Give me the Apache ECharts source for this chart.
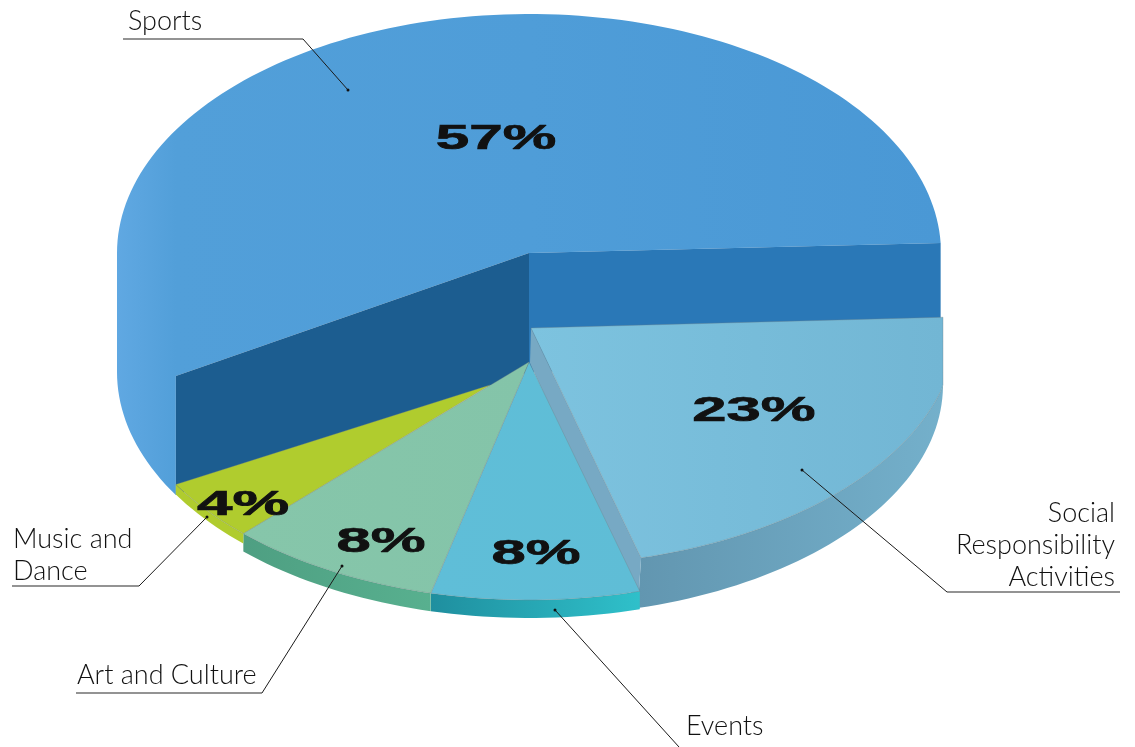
<!DOCTYPE html>
<html>
<head>
<meta charset="utf-8">
<style>html,body{margin:0;padding:0;background:#fff}#c{width:1135px;height:747px}</style>
<script src="https://cdn.jsdelivr.net/npm/echarts@6/dist/echarts.min.js"></script>
</head>
<body>
<div id="c"></div>
<script>
const categories = ['Sports', 'Social Responsibility Activities', 'Events', 'Art and Culture', 'Music and Dance'];
const shareValues = [57, 23, 8, 8, 4];
const categoryLines = [['Sports'], ['Social', 'Responsibility', 'Activities'], ['Events'], ['Art and Culture'], ['Music and', 'Dance']];

// Perspective geometry of each slice (the source is a hand-distorted 3D pie).
const sliceGeometry = [
  { top: { cx: 529, cy: 253, rx: 412, ry: 239 }, bottom: { cx: 529, cy: 372, rx: 412, ry: 239 }, apex: [529, 253], apexLow: [529, 372], start: 149, fit: 1.0166, inner: true },
  { top: { cx: 531, cy: 328, rx: 425, ry: 238 }, bottom: { cx: 531, cy: 385, rx: 412, ry: 231 }, apex: [531, 328], apexLow: [530, 363], start: -2.6, fit: 0.937, maxX: 943, strip: true },
  { top: { cx: 529, cy: 362, rx: 412, ry: 238 }, bottom: { cx: 529, cy: 380, rx: 412, ry: 238 }, apex: [529, 362], start: 74.4, fit: 1.02 },
  { top: { cx: 529, cy: 362, rx: 412, ry: 238 }, bottom: { cx: 529, cy: 380, rx: 412, ry: 238 }, apex: [529, 362], start: 103.8, fit: 1.045 },
  { top: { cx: 529, cy: 362, rx: 412, ry: 238 }, bottom: { cx: 529, cy: 372, rx: 412, ry: 238 }, apex: [490, 385], start: 133.9, fit: 1.05 }
];
const sliceColors = [
  { top: [[0, '#60a8e2'], [0.0716, '#529fd9'], [0.5, '#4f9dd8'], [1, '#4a98d5']], innerLeft: '#1c5d90', innerRight: '#2a78b7' },
  { top: [[0, '#7dc3df'], [1, '#72b6d4']], wall: ['#6296b0', '#74b0cb'], strip: '#77a9c4' },
  { top: [[0, '#5fbed8'], [1, '#5fbdd6']], wall: ['#1f8f9f', '#2fc0ca'] },
  { top: [[0, '#86c6aa'], [1, '#84c4a9']], wall: ['#4e9f82', '#58b08f'] },
  { top: [[0, '#b0cc2e'], [1, '#b0cc2e']], wall: ['#b0cc2e', '#b0cc2e'] }
];
const percentPlacement = [
  { x: 496, y: 139, sx: 1.72 }, { x: 754, y: 411, sx: 1.76 }, { x: 536, y: 554, sx: 1.76 },
  { x: 381, y: 542, sx: 1.76 }, { x: 243, y: 505, sx: 1.82 }
];
const leaderPlacement = [
  { under: [123, 303, 39], to: [348, 90], text: { x: 128, y: 21, align: 'left' } },
  { under: [1120, 947, 592], to: [802, 470], text: { x: 1115, y: 513, align: 'right' } },
  { from: [679, 747], to: [555, 610], text: { x: 686, y: 726, align: 'left' } },
  { under: [76, 262, 693], to: [342, 566], text: { x: 77, y: 675, align: 'left' } },
  { under: [12, 139, 586], to: [207, 517], text: { x: 13, y: 539, align: 'left' } }
];
const LINE_GAP = 32;

const chart = echarts.init(document.getElementById('c'), null, { renderer: 'canvas' });
const rad = d => d * Math.PI / 180;
function arc(e, a0, a1, maxX) {
  const pts = [];
  const n = Math.max(8, Math.ceil(Math.abs(a1 - a0) / 1.5));
  for (let i = 0; i <= n; i++) {
    const a = rad(a0 + (a1 - a0) * i / n);
    let x = e.cx + e.rx * Math.cos(a);
    if (maxX) x = Math.min(x, maxX);
    pts.push([x, e.cy + e.ry * Math.sin(a)]);
  }
  return pts;
}
const hGrad = stops => new echarts.graphic.LinearGradient(0, 0, 1, 0, stops.map(s => ({ offset: s[0], color: s[1] })));
const wallGrad = c => hGrad([[0, c[0]], [1, c[1]]]);
const poly = (points, fill, stroke) => ({
  type: 'polygon', shape: { points },
  style: { fill, stroke: stroke || null, lineWidth: stroke ? 0.6 : 0 }
});
const EDGE = 'rgba(110,125,130,0.55)';

function renderSlice(params, api) {
  const i = params.dataIndex;
  const g = sliceGeometry[i], c = sliceColors[i];
  const sweep = api.value(0) * 3.6 * g.fit;
  const a0 = g.start, a1 = g.start + sweep;
  const rim = arc(g.top, a0, a1, g.maxX);
  const low = arc(g.bottom, a0, a1, g.maxX);
  const children = [];
  if (g.inner) {
    // one silhouette: the outer wall on the left blends into the top face
    const body = arc(g.bottom, a0, 180).concat(arc(g.top, 180, a1), [g.apex, rim[0]]);
    children.push(poly(body, hGrad(c.top)));
    children.push(poly([g.apex, rim[0], low[0], g.apexLow], c.innerLeft));
    children.push(poly([g.apex, rim[rim.length - 1], low[low.length - 1], g.apexLow], c.innerRight));
  } else {
    children.push(poly(rim.concat(low.slice().reverse()), wallGrad(c.wall)));
    if (g.strip) {
      children.push(poly([g.apex, rim[rim.length - 1], low[low.length - 1], g.apexLow], c.strip));
    }
    children.push(poly([g.apex].concat(rim), hGrad(c.top), EDGE));
  }
  return { type: 'group', children };
}

function renderLabels(params, api) {
  const i = params.dataIndex;
  const p = percentPlacement[i], l = leaderPlacement[i];
  const children = [];
  children.push({
    type: 'text', x: p.x, y: p.y, scaleX: p.sx,
    style: {
      text: api.value(0) + '%', fill: '#111', stroke: '#111', lineWidth: 0.7,
      font: 'bold 35px "Liberation Sans", Arial, sans-serif',
      textAlign: 'center', textVerticalAlign: 'middle'
    }
  });
  const start = l.under ? [l.under[1], l.under[2]] : l.from;
  if (l.under) {
    children.push({
      type: 'line', shape: { x1: l.under[0], y1: l.under[2], x2: l.under[1], y2: l.under[2] },
      style: { stroke: '#6f6f6f', lineWidth: 1.4 }
    });
  }
  children.push({
    type: 'line', shape: { x1: start[0], y1: start[1], x2: l.to[0], y2: l.to[1] },
    style: { stroke: '#1a1a1a', lineWidth: 1 }
  });
  children.push({
    type: 'circle', shape: { cx: l.to[0], cy: l.to[1], r: 1.5 },
    style: { fill: '#111' }
  });
  categoryLines[i].forEach((t, k) => {
    children.push({
      type: 'text', x: l.text.x, y: l.text.y + k * LINE_GAP,
      style: {
        text: t, fill: '#111',
        font: '300 27px Lato, sans-serif',
        textAlign: l.text.align, textVerticalAlign: 'middle'
      }
    });
  });
  return { type: 'group', children };
}

const seriesData = shareValues.map((v, i) => ({ name: categories[i], value: [v] }));
chart.setOption({
  backgroundColor: '#ffffff',
  animation: false,
  series: [
    { type: 'custom', coordinateSystem: 'none', silent: true, clip: false, z: 2, renderItem: renderSlice, data: seriesData, encode: { value: 0 } },
    { type: 'custom', coordinateSystem: 'none', silent: true, clip: false, z: 3, renderItem: renderLabels, data: seriesData, encode: { value: 0 } }
  ]
});
</script>
</body>
</html>
